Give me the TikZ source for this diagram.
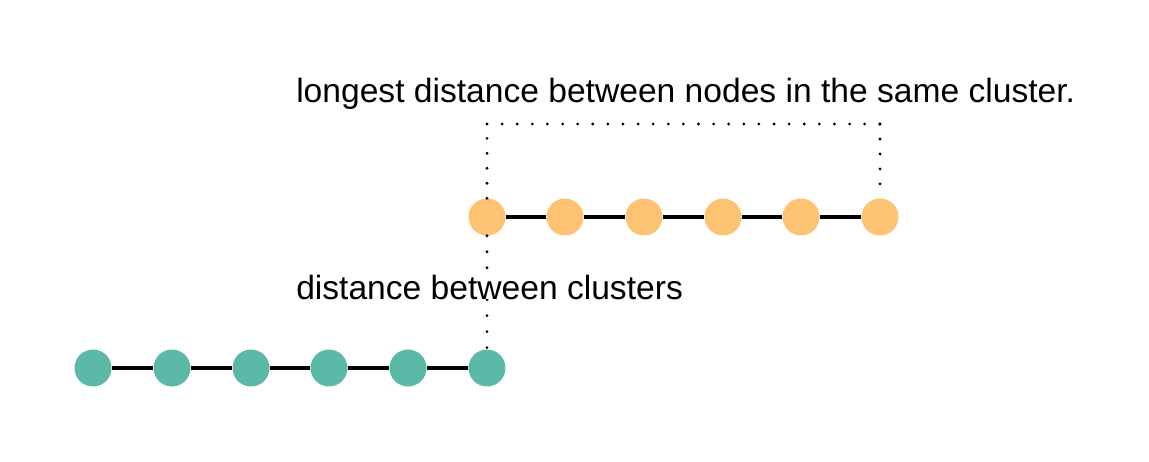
\documentclass[tikz,border=0pt]{standalone}
\usepackage{fontspec}
\setmainfont{Liberation Sans}
\definecolor{clorange}{HTML}{FEC273}
\definecolor{clteal}{HTML}{5CB9A8}
\begin{document}
\begin{tikzpicture}[x=0.75pt,y=-0.75pt,
  dotline/.style={line width=2.3pt,line cap=round,dash pattern=on 0pt off #1},
  dotline/.default=11.25pt,
  edge/.style={line width=3.5pt},
  dotnode/.style={circle,inner sep=0pt,minimum size=27.75pt},
  onode/.style={dotnode,fill=clorange},
  gnode/.style={dotnode,fill=clteal},
  lbl/.style={inner sep=0pt,anchor=base west,font=\fontsize{25.2}{30}\selectfont}]
\useasboundingbox (0,0) rectangle (1149,461);
% nodes
\foreach \i/\x in {1/93,2/172,3/251,4/329,5/408,6/487}
  \node[gnode] (g\i) at (\x,368) {};
\foreach \i/\x in {1/487,2/565,3/644,4/723,5/801,6/880}
  \node[onode] (o\i) at (\x,217) {};
% edges
\foreach \a/\b in {1/2,2/3,3/4,4/5,5/6}{
  \draw[edge] (g\a) -- (g\b);
  \draw[edge] (o\a) -- (o\b);
}
% dotted guides
\coordinate (tl) at (487,124);
\coordinate (tr) at (880,124);
\draw[dotline=11.24pt] (o1.north) -- (tl);
\draw[dotline=11.33pt] (tl) -- (tr);
\draw[dotline=11.24pt] (tr) -- (o6.north);
\draw[dotline=11.99pt] (o1.south) -- (g6.north);
% labels
\node[lbl] (top) at (296,102) {longest distance between nodes in the same cluster.};
\node[lbl,fill=white] (mid) at (296,299) {distance between clusters};
\end{tikzpicture}
\end{document}
